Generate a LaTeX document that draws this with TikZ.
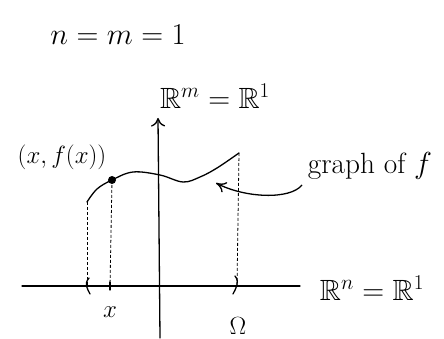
\documentclass[tikz,border=0pt]{standalone}
\usepackage{amsmath,amssymb}
\usepackage{tikz}
\usetikzlibrary{arrows.meta,positioning,calc}
\tikzset{
  axis/.style={line width=1.3pt, line cap=round},
  graphline/.style={line width=1.3pt, line cap=round},
  proj/.style={densely dashed, line width=0.8pt},
  lbl/.style={inner sep=1pt, font=\fontsize{24}{28}\selectfont},
  biglbl/.style={inner sep=1pt, font=\fontsize{24}{28}\selectfont, scale=1.22},
  pointer/.style={-{To[length=3.5mm,width=4mm]}, line width=1.3pt},
}
\begin{document}
\begin{tikzpicture}[x=1pt,y=-1pt]
\useasboundingbox (0,0) rectangle (444,339);

% labels
\node[biglbl] (nm) at (118,35) {$n=m=1$};
\node[biglbl] (rm) at (215,96) {$\mathbb{R}^m=\mathbb{R}^1$};
\node[biglbl] (rn) at (372,288) {$\mathbb{R}^n=\mathbb{R}^1$};
\node[lbl] (pt) at (62,157) {$(x,f(x))$};
\node[biglbl] (gr) at (370,166) {graph of $f$};
\node[lbl] (xl) at (110,312) {$x$};
\node[lbl] (om) at (238,326) {$\Omega$};

% axes
\coordinate (xa) at (22,286);
\coordinate (xb) at (300,286);
\coordinate (ya) at (160,338);
\coordinate (yb) at (158,118);
\draw[axis] (xa) -- (xb);
\draw[axis, -{To[length=3mm,width=5mm]}] (ya) -- (yb);

% graph of f
\coordinate (g0) at (87,202);
\coordinate (gp) at (112,180);
\coordinate (g1) at (239,153);
\draw[graphline] plot[smooth, tension=0.6] coordinates
  {(g0) (97,189) (gp) (133,172) (160,175) (183,182) (200,177) (217,168) (g1)};
\fill (gp) circle (4pt);

% interval and point on the axis
\coordinate (lo) at (87,286);
\coordinate (hi) at (237,286);
\coordinate (xp) at (110,286);
\draw[proj] (g0) -- (lo);
\draw[proj] (gp) -- (xp);
\draw[proj] (g1) -- (hi);
\draw[graphline] (xp) ++(0,-4) -- ++(0,8);
\draw[graphline] (lo) ++(2,-8) .. controls ++(-5,6) and ++(-3,-6) .. ++(1,16);
\draw[graphline] (hi) ++(-2,-10) .. controls ++(5,6) and ++(3,-6) .. ++(-2,18);

% pointer to the graph
\coordinate (tip) at (216,183);
\draw[pointer] (302,185) .. controls (290,200) and (245,198) .. (tip);
\end{tikzpicture}
\end{document}
